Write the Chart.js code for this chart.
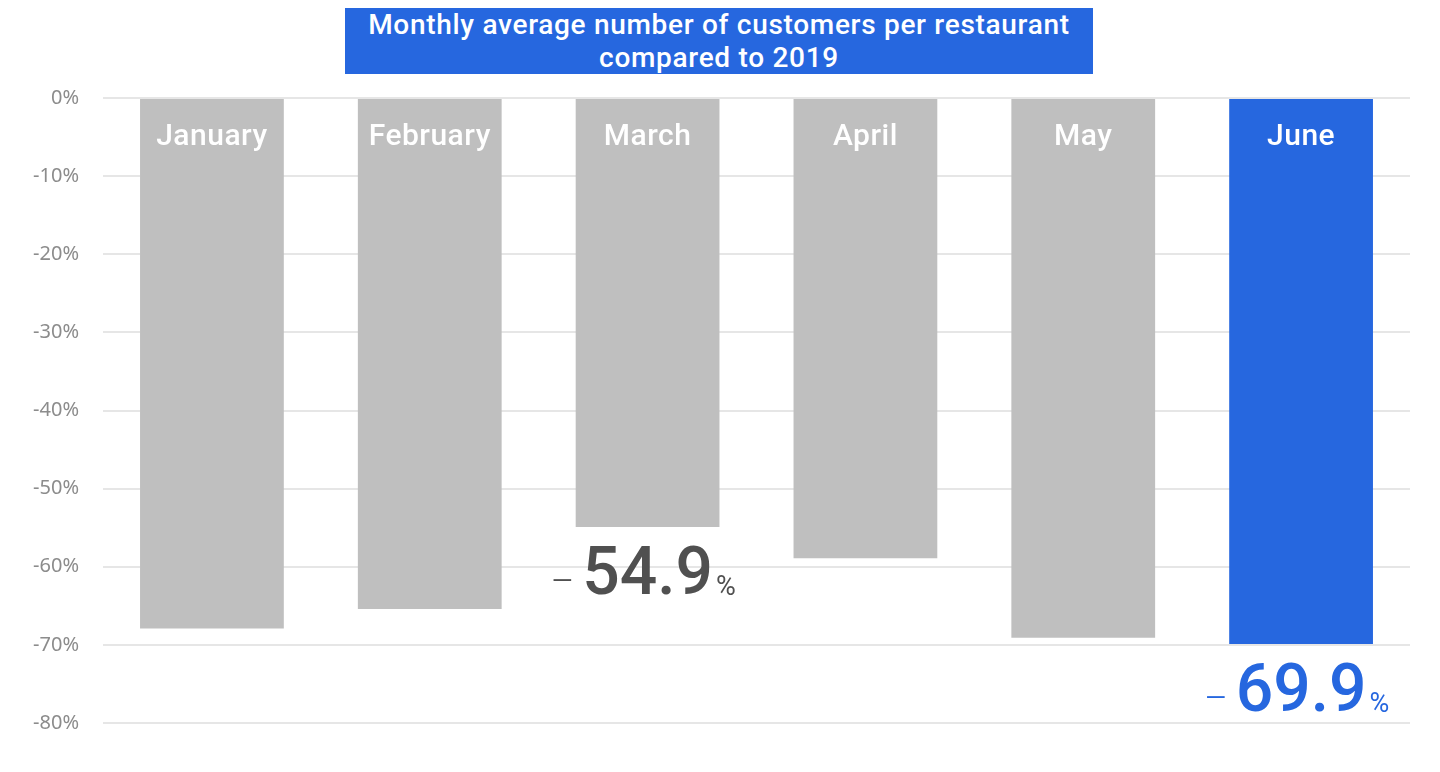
<!DOCTYPE html>
<html>
<head>
<meta charset="utf-8">
<script src="https://cdn.jsdelivr.net/npm/chart.js@4"></script>
<style>
  html, body { margin: 0; padding: 0; background: #ffffff; }
  #wrap { position: relative; width: 1440px; height: 772px; }
  #title {
    position: absolute; left: 345px; top: 8px; width: 748px; height: 66px;
    background: #2667df; color: #ffffff;
    font-family: Roboto, 'Noto Sans', sans-serif; font-weight: 500; font-size: 28px;
    letter-spacing: 0.7px; line-height: 33px; text-align: center;
    display: flex; align-items: center; justify-content: center;
  }
</style>
</head>
<body>
<div id="wrap">
  <canvas id="barChart" width="1440" height="772"></canvas>
  <div id="title">Monthly average number of customers per restaurant<br>compared to 2019</div>
</div>
<script>
// dados
const months = ['January', 'February', 'March', 'April', 'May', 'June'];
const changePct = [-67.9, -65.4, -54.9, -58.9, -69.1, -69.9];
const highlighted = [false, false, false, false, false, true];
const calloutMonths = ['March', 'June'];
const yTicks = [0, -10, -20, -30, -40, -50, -60, -70, -80];

const GREY = '#bfbfbf';
const BLUE = '#2667df';

document.addEventListener('DOMContentLoaded', function() {

    // rótulos dentro das barras + valores grandes embaixo
    const labelPlugin = {
        id: 'barLabels',
        afterDatasetsDraw(chart) {
            const ctx = chart.ctx;
            const meta = chart.getDatasetMeta(0);
            ctx.save();
            meta.data.forEach((bar, i) => {
                // nome do mês no topo da barra
                ctx.fillStyle = '#ffffff';
                ctx.font = "500 30px Roboto, 'Noto Sans', sans-serif";
                ctx.letterSpacing = '0.5px';
                ctx.textAlign = 'center';
                ctx.textBaseline = 'middle';
                ctx.fillText(months[i], bar.x, chart.scales.y.getPixelForValue(0) + 39);
                ctx.letterSpacing = '0px';

                if (calloutMonths.includes(months[i])) {
                    const color = highlighted[i] ? BLUE : '#505050';
                    const num = Math.abs(changePct[i]).toFixed(1);
                    const base = bar.y + 67;
                    ctx.textBaseline = 'alphabetic';
                    ctx.font = "500 66px Roboto, sans-serif";
                    const w = ctx.measureText(num).width;
                    ctx.fillStyle = color;
                    ctx.textAlign = 'center';
                    ctx.fillText(num, bar.x, base);
                    // sinal de menos e o %
                    ctx.font = "300 36px Roboto, sans-serif";
                    ctx.textAlign = 'right';
                    ctx.fillText('\u2013', bar.x - w / 2 - 8, base - 1);
                    ctx.font = "400 27px Roboto, sans-serif";
                    ctx.textAlign = 'left';
                    ctx.fillText('%', bar.x + w / 2 + 3, base + 1);
                }
            });
            ctx.restore();
        }
    };

    const barCtx = document.getElementById('barChart');
    new Chart(barCtx, {
        type: 'bar',
        data: {
            labels: months,
            datasets: [{
                data: changePct,
                backgroundColor: highlighted.map(h => h ? BLUE : GREY),
                borderWidth: 0,
                categoryPercentage: 1,
                barPercentage: 0.66
            }]
        },
        options: {
            responsive: false,
            animation: false,
            layout: { padding: { top: 98, bottom: 49, left: 0, right: 30 } },
            plugins: {
                legend: { display: false },
                tooltip: { enabled: false }
            },
            scales: {
                x: { display: false },
                y: {
                    min: -80,
                    max: 0,
                    afterFit(scale) { scale.width = 103; },
                    afterBuildTicks(scale) { scale.ticks = yTicks.map(v => ({ value: v })); },
                    border: { display: false },
                    grid: { color: '#e6e6e6', lineWidth: 2, drawTicks: false },
                    ticks: {
                        padding: 24,
                        color: '#8c8c8c',
                        font: { family: "'Noto Sans', sans-serif", size: 20 },
                        callback: v => v + '%'
                    }
                }
            }
        },
        plugins: [labelPlugin]
    });
});
</script>
</body>
</html>
